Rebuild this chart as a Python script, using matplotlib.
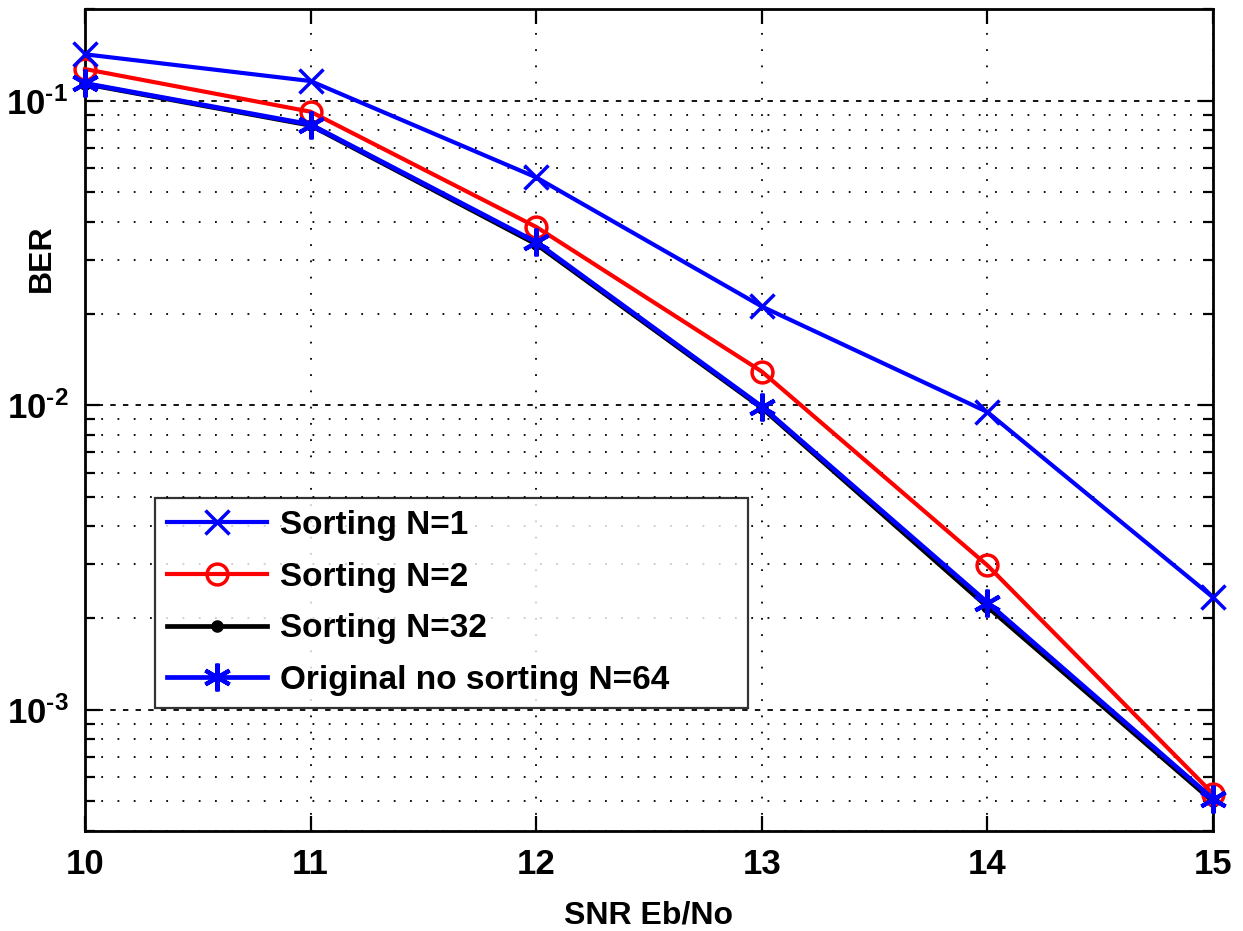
import matplotlib
matplotlib.use("Agg")
import matplotlib.pyplot as plt
import numpy as np
from matplotlib.ticker import LogLocator, NullFormatter, FixedLocator, FuncFormatter

snr = [10, 11, 12, 13, 14, 15]
ber_n1 = [0.142, 0.116, 0.056, 0.0211, 0.0095, 0.00234]
ber_n2 = [0.127, 0.092, 0.0385, 0.0129, 0.00298, 0.00053]
ber_n32 = [0.1135, 0.083, 0.0338, 0.0098, 0.00218, 0.00050]
ber_n64 = [0.114, 0.0835, 0.0343, 0.0099, 0.00225, 0.00051]
labels = ["Sorting N=1", "Sorting N=2", "Sorting N=32", "Original no sorting N=64"]
xticks = [10, 11, 12, 13, 14, 15]

fam = ['Liberation Sans', 'DejaVu Sans']
plt.rcParams['font.family'] = fam
plt.rcParams['font.weight'] = 'bold'
plt.rcParams['mathtext.fontset'] = 'custom'
plt.rcParams['mathtext.rm'] = 'Liberation Sans:bold'
plt.rcParams['mathtext.default'] = 'rm'

fig = plt.figure(figsize=(12.43, 9.31), dpi=100)
ax = fig.add_axes([85/1243, 1 - 831/931, 1128/1243, 822/931])

ax.plot(snr, ber_n1, color='blue', lw=3.0, marker='x', ms=17, mew=2.5, label=labels[0], zorder=5, clip_on=False)
ax.plot(snr, ber_n2, color='red', lw=3.0, marker='o', ms=15, mew=2.5, mfc='none', label=labels[1], zorder=4, clip_on=False)
ax.plot(snr, ber_n32, color='black', lw=3.4, marker='o', ms=8, mfc='black', label=labels[2], zorder=3, clip_on=False)
ax.plot(snr, ber_n64, color='blue', lw=3.4, marker=(6, 2, 0), ms=20, mew=3, label=labels[3], zorder=4, clip_on=False)

ax.set_yscale('log')
ax.set_xlim(10, 15)
ax.set_ylim(4e-4, 0.2)
ax.xaxis.set_major_locator(FixedLocator(xticks))
ax.yaxis.set_major_locator(LogLocator(base=10, numticks=10))
ax.yaxis.set_minor_locator(LogLocator(base=10, subs=np.arange(2, 10), numticks=10))
ax.yaxis.set_minor_formatter(NullFormatter())


def dec_fmt(v, pos):
    e = int(round(np.log10(v)))
    return r'$10^{\text{-}%d}$' % (-e) if e < 0 else r'$10^{%d}$' % e


ax.yaxis.set_major_formatter(FuncFormatter(dec_fmt))

ax.grid(True, which='major', axis='x', linestyle=(0, (1, 8)), color='black', lw=1.3)
ax.grid(True, which='major', axis='y', linestyle=(0, (3, 4)), color='black', lw=1.3)
ax.grid(True, which='minor', axis='y', linestyle=(0, (1, 8)), color='black', lw=1.3)

ax.tick_params(which='both', direction='in', top=True, right=True, labelsize=25, width=1.6)
ax.tick_params(which='major', length=11)
ax.tick_params(which='minor', length=7)
ax.tick_params(axis='x', pad=12)
ax.tick_params(axis='y', pad=12)
for s in ax.spines.values():
    s.set_linewidth(2.0)

ax.set_xlabel("SNR Eb/No", fontsize=23, fontweight='bold', labelpad=14)
ax.set_ylabel("BER", fontsize=23, fontweight='bold')
ax.yaxis.set_label_coords(-0.0245, 0.697)

leg = ax.legend(loc='lower left', bbox_to_anchor=(0.062, 0.150, 0.526, 0.27), mode='expand',
                fontsize=24, frameon=True, fancybox=False, edgecolor='black',
                handlelength=3.0, borderpad=0.35, labelspacing=0.62, handletextpad=0.4,
                borderaxespad=0)
leg.get_frame().set_linewidth(1.6)
for t in leg.get_texts():
    t.set_fontweight('bold')

fig.savefig("out.png", dpi=100)
